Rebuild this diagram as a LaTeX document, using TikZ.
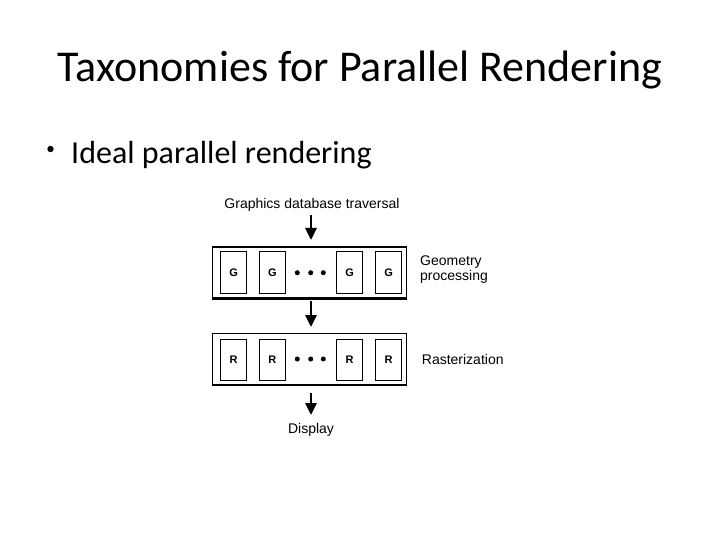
\documentclass[tikz,border=0pt]{standalone}
\usepackage{fontspec}
\setmainfont{Carlito}
\newfontfamily\diagfont{Liberation Sans}
\usetikzlibrary{arrows.meta}
\tikzset{
  outerbox/.style={draw, line width=1.1pt},
  unitbox/.style={draw, line width=0.9pt, minimum width=26pt, minimum height=41.5pt, inner sep=0pt, font=\diagfont\bfseries\fontsize{11}{13}\selectfont},
  flowarrow/.style={line width=2.8pt, -{Triangle[length=12pt,width=11pt]}},
  difflabel/.style={font=\diagfont\fontsize{14}{16}\selectfont, inner sep=0pt},
  dotmark/.style={circle, fill, inner sep=0pt, minimum size=5pt}
}
\begin{document}
\begin{tikzpicture}[x=1pt,y=-1pt]
\useasboundingbox (0,0) rectangle (720,540);
% title and bullet
\node[anchor=base, font=\fontsize{44}{52}\selectfont, inner sep=0pt] (title) at (360,82) {Taxonomies for Parallel Rendering};
\fill (50.5,149) circle (3.2pt);
\node[anchor=base west, font=\fontsize{32}{38}\selectfont, inner sep=0pt] (bullet) at (71,164) {Ideal parallel rendering};
% diagram
\node[difflabel] (trav) at (312,205) {Graphics database traversal};
% geometry stage
\node[outerbox, minimum width=194pt, minimum height=51pt, inner sep=0pt] (gbox) at (309.7,272.5) {};
\draw[line width=2pt] (gbox.south west) -- (gbox.south east);
\node[unitbox] (g1) at (233.7,272.5) {G};
\node[unitbox] (g2) at (272.3,272.5) {G};
\node[unitbox] (g3) at (349.7,272.5) {G};
\node[unitbox] (g4) at (388.7,272.5) {G};
\node[dotmark] (gd1) at (297.3,272.7) {};
\node[dotmark] (gd2) at (310.7,272.7) {};
\node[dotmark] (gd3) at (323.3,272.7) {};
\node[difflabel, anchor=west, align=left] (glab) at (420,269.5) {Geometry\\[-1pt]processing};
% rasterization stage
\node[outerbox, minimum width=194pt, minimum height=51pt, inner sep=0pt] (rbox) at (309.7,358.7) {};
\draw[line width=2pt] (rbox.south west) -- (rbox.south east);
\node[unitbox] (r1) at (233.7,359.7) {R};
\node[unitbox] (r2) at (272.3,359.7) {R};
\node[unitbox] (r3) at (349.7,359.7) {R};
\node[unitbox] (r4) at (388.7,359.7) {R};
\node[dotmark] (rd1) at (297.3,359) {};
\node[dotmark] (rd2) at (310.7,359) {};
\node[dotmark] (rd3) at (323.3,359) {};
\node[difflabel, anchor=west] (rlab) at (421.7,359) {Rasterization};
\node[difflabel] (disp) at (311,430) {Display};
% arrows
\coordinate (a1s) at (311,215);
\coordinate (a1e) at (311,240);
\draw[flowarrow] (a1s) -- (a1e);
\coordinate (a2s) at (311,301);
\coordinate (a2e) at (311,327);
\draw[flowarrow] (a2s) -- (a2e);
\coordinate (a3s) at (311,393);
\coordinate (a3e) at (311,415);
\draw[flowarrow] (a3s) -- (a3e);
\end{tikzpicture}
\end{document}
